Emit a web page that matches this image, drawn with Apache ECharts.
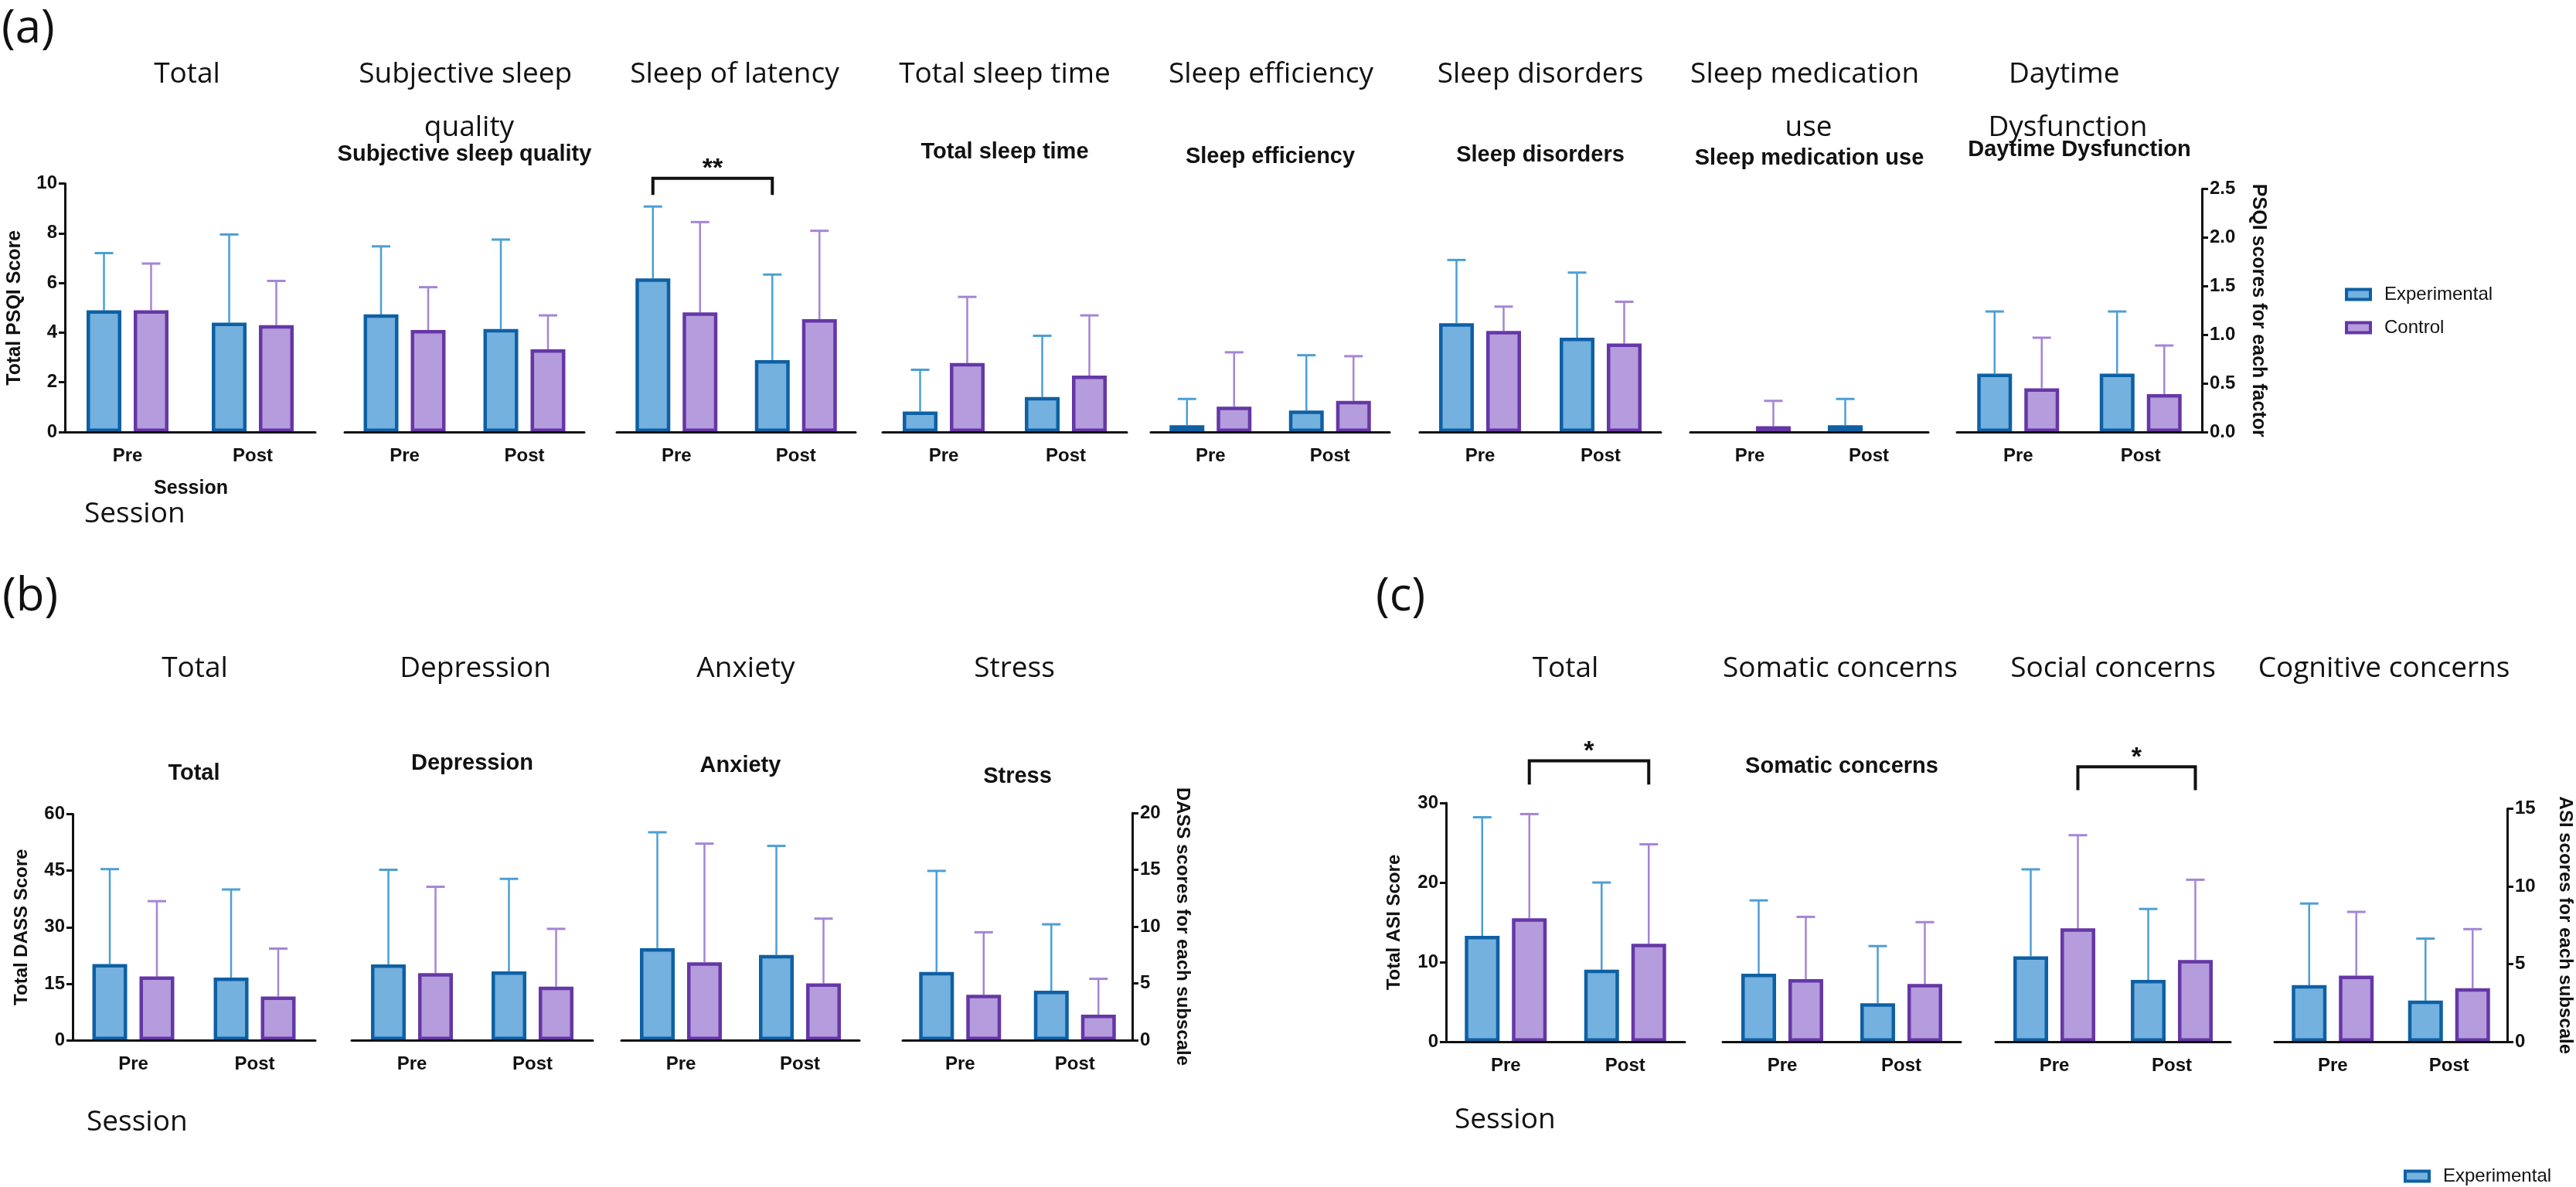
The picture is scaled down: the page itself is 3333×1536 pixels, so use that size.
<!DOCTYPE html>
<html><head><meta charset="utf-8">
<script src="https://cdn.jsdelivr.net/npm/echarts@6/dist/echarts.min.js"></script>
<style>html,body{margin:0;padding:0;background:#fff}#c{width:3333px;height:1536px}</style>
</head><body><div id="c"></div>
<script>
// ---------------- DATA ----------------
const sessions = ['Pre', 'Post'];
const groupNames = ['Experimental', 'Control'];

// (a) PSQI  — values per factor: [Pre, Post]; "Upper" = mean + SD (top of error bar)
const psqiFactors = ['Total', 'Subjective sleep quality', 'Sleep of latency', 'Total sleep time',
  'Sleep efficiency', 'Sleep disorders', 'Sleep medication use', 'Daytime Dysfunction'];
const psqiExpMean   = [[4.9, 4.4], [1.21, 1.06], [1.58, 0.74], [0.21, 0.36], [0.07, 0.22], [1.12, 0.97], [0, 0.07], [0.60, 0.60]];
const psqiExpUpper  = [[7.2, 7.95], [1.91, 1.98], [2.32, 1.62], [0.64, 0.99], [0.34, 0.79], [1.77, 1.64], [0, 0.34], [1.24, 1.24]];
const psqiCtrlMean  = [[4.9, 4.3], [1.05, 0.85], [1.23, 1.16], [0.71, 0.58], [0.26, 0.32], [1.04, 0.91], [0.06, 0], [0.45, 0.39]];
const psqiCtrlUpper = [[6.78, 6.08], [1.49, 1.20], [2.16, 2.07], [1.39, 1.20], [0.82, 0.78], [1.29, 1.34], [0.32, 0], [0.97, 0.89]];
const psqiTotalTicks = [0, 2, 4, 6, 8, 10];
const psqiFactorTicks = [0.0, 0.5, 1.0, 1.5, 2.0, 2.5];

// (b) DASS
const dassScales = ['Total', 'Depression', 'Anxiety', 'Stress'];
const dassExpMean   = [[20.2, 16.6], [6.67, 6.05], [8.1, 7.5], [6.0, 4.35]];
const dassExpUpper  = [[45.4, 40.0], [15.0, 14.2], [18.3, 17.1], [14.9, 10.2]];
const dassCtrlMean  = [[16.9, 11.6], [5.9, 4.71], [6.85, 5.0], [4.0, 2.25]];
const dassCtrlUpper = [[36.9, 24.3], [13.5, 9.8], [17.3, 10.7], [9.5, 5.4]];
const dassTotalTicks = [0, 15, 30, 45, 60];
const dassScaleTicks = [0, 5, 10, 15, 20];

// (c) ASI
const asiScales = ['Total', 'Somatic concerns', 'Social concerns', 'Cognitive concerns'];
const asiExpMean   = [[13.3, 9.05], [4.38, 2.47], [5.5, 3.98], [3.64, 2.65]];
const asiExpUpper  = [[28.2, 20.0], [9.1, 6.16], [11.1, 8.55], [8.9, 6.64]];
const asiCtrlMean  = [[15.5, 12.3], [4.03, 3.72], [7.3, 5.26], [4.25, 3.45]];
const asiCtrlUpper = [[28.6, 24.8], [8.04, 7.7], [13.3, 10.43], [8.36, 7.25]];
const asiTotalTicks = [0, 10, 20, 30];
const asiScaleTicks = [0, 5, 10, 15];

// significance brackets: chart index, group (0 exp / 1 ctrl), label, leg & top heights (axis units)
const psqiSig = [{chart: 2, group: 0, label: '**', leg: 2.44, top: 2.61}];
const dassSig = [];
const asiSig  = [{chart: 0, group: 1, label: '*', leg: 32.3, top: 35.3}, {chart: 2, group: 1, label: '*', leg: 16.2, top: 17.7}];

// ---------------- STYLE / LAYOUT ----------------
const C = {
  expFill: '#74b1df', expBorder: '#0e60a4', expErr: '#4c9fd6',
  ctrlFill: '#b59cdc', ctrlBorder: '#6537a6', ctrlErr: '#a585d6',
  ink: '#111'
};
const BAR_W = 45, BAR_GAP = 0.355;
const BAR_OFF = BAR_W * (1 + BAR_GAP) / 2;
const TITLE_FONT = '"Open Sans", "Noto Sans", sans-serif';
const ARIAL = '"Liberation Sans", Arial, sans-serif';

const panels = [
  {label: '(a)', labelPos: [2, 38], names: psqiFactors, exp: psqiExpMean, expUp: psqiExpUpper, ctrl: psqiCtrlMean, ctrlUp: psqiCtrlUpper,
   totalTicks: psqiTotalTicks, subTicks: psqiFactorTicks, decimals: 1,
   xs: [[84, 408], [446, 756], [798, 1107], [1142, 1458], [1489, 1798], [1837, 2149], [2187, 2495], [2532, 2849]],
   titleDx: [-4, 6, -2, 0, 1, 0, -1, -15],
   topTotal: 237.5, topSub: 244.6, bottom: 559,
   leftName: 'Total PSQI Score', rightName: 'PSQI scores for each factor', leftGap: 52, rightGap: 60, nameSize: 25,
   titleY: 96, titleWidth: 330, subY: [0, 200, 0, 197, 203, 201, 205, 194], sig: psqiSig,
   session: [[109, 665]], sessionSmall: [247, 632]},
  {label: '(b)', labelPos: [3, 773], names: dassScales, exp: dassExpMean, expUp: dassExpUpper, ctrl: dassCtrlMean, ctrlUp: dassCtrlUpper,
   totalTicks: dassTotalTicks, subTicks: dassScaleTicks, decimals: 0,
   xs: [[94, 408], [455, 767], [804, 1112], [1168, 1465]],
   titleDx: [1, 4, 7, -4],
   topTotal: 1053.5, topSub: 1052, bottom: 1346,
   leftName: 'Total DASS Score', rightName: 'DASS scores for each subscale', leftGap: 54, rightGap: 53, nameSize: 24,
   titleY: 865, titleWidth: 0, subY: [1001, 988, 991, 1005], sig: dassSig,
   session: [[112, 1452]]},
  {label: '(c)', labelPos: [1780, 773], names: asiScales, exp: asiExpMean, expUp: asiExpUpper, ctrl: asiCtrlMean, ctrlUp: asiCtrlUpper,
   totalTicks: asiTotalTicks, subTicks: asiScaleTicks, decimals: 0,
   xs: [[1871, 2180], [2229, 2537], [2582, 2886], [2943, 3244]],
   titleDx: [0, -2, 0, -9],
   topTotal: 1039, topSub: 1046.6, bottom: 1348,
   leftName: 'Total ASI Score', rightName: 'ASI scores for each subscale', leftGap: 55, rightGap: 63, nameSize: 24,
   titleY: 865, titleWidth: 0, subY: [0, 992, 0, 0], sig: asiSig,
   session: [[1882, 1449]]}
];

// ---------------- BUILD ----------------
function renderErr(params, api) {
  const mean = api.value(1), up = api.value(2), side = api.value(3);
  if (!(up > mean)) return null;
  const cat = api.value(0);
  const p0 = api.coord([cat, mean]);
  const p1 = api.coord([cat, up]);
  const x = p0[0] + side * BAR_OFF;
  const color = side < 0 ? C.expErr : C.ctrlErr;
  return {type: 'group', children: [
    {type: 'line', shape: {x1: x, y1: p0[1], x2: x, y2: p1[1]}, style: {stroke: color, lineWidth: 2.5}},
    {type: 'line', shape: {x1: x - 12, y1: p1[1], x2: x + 12, y2: p1[1]}, style: {stroke: color, lineWidth: 3}}
  ]};
}
// zero-height bars draw no outline (as in the original figure)
const barData = arr => arr.map(v => v === 0 ? {value: 0, itemStyle: {borderWidth: 0}} : v);

const option = {animation: false, backgroundColor: '#fff', grid: [], xAxis: [], yAxis: [], series: [], graphic: []};
let gi = 0;

panels.forEach(p => {
  option.graphic.push({type: 'text', x: p.labelPos[0], y: p.labelPos[1],
    style: {text: p.label, font: '60px ' + TITLE_FONT, fill: C.ink, textAlign: 'left', textVerticalAlign: 'middle'}});
  p.session.forEach(s => option.graphic.push({type: 'text', x: s[0], y: s[1],
    style: {text: 'Session', font: '500 37px ' + TITLE_FONT, fill: C.ink, textAlign: 'left', textVerticalAlign: 'middle'}}));
  if (p.sessionSmall) option.graphic.push({type: 'text', x: p.sessionSmall[0], y: p.sessionSmall[1],
    style: {text: 'Session', font: 'bold 25px ' + ARIAL, fill: C.ink, textAlign: 'center', textVerticalAlign: 'middle'}});

  p.xs.forEach((xr, k) => {
    const isTotal = k === 0, isLast = k === p.xs.length - 1;
    const ticks = isTotal ? p.totalTicks : p.subTicks;
    const top = isTotal ? p.topTotal : p.topSub;
    const cx = (xr[0] + xr[1]) / 2;
    option.grid.push({left: xr[0], top: top, width: xr[1] - xr[0], height: p.bottom - top});
    option.xAxis.push({
      gridIndex: gi, type: 'category', data: sessions, boundaryGap: true, z: 3,
      axisLine: {lineStyle: {color: C.ink, width: 3}},
      axisTick: {alignWithLabel: true, length: 12, lineStyle: {color: C.ink, width: 3}},
      axisLabel: {margin: 19, color: C.ink, fontFamily: ARIAL, fontWeight: 'bold', fontSize: 24},
      splitLine: {show: false}
    });
    const showY = isTotal || isLast;
    const dec = isTotal ? 0 : p.decimals;
    option.yAxis.push({
      gridIndex: gi, type: 'value', show: showY, position: isTotal ? 'left' : 'right',
      min: ticks[0], max: ticks[ticks.length - 1], interval: ticks[1] - ticks[0],
      name: isTotal ? p.leftName : (isLast ? p.rightName : ''),
      nameLocation: 'middle', nameRotate: isTotal ? 90 : -90, nameGap: isTotal ? p.leftGap : p.rightGap,
      nameTextStyle: {fontFamily: ARIAL, fontWeight: 'bold', fontSize: p.nameSize, color: C.ink},
      axisLine: {show: true, lineStyle: {color: C.ink, width: 3}},
      axisTick: {show: true, length: 8, lineStyle: {color: C.ink, width: 3}},
      axisLabel: {margin: 10, color: C.ink, fontFamily: ARIAL, fontWeight: 'bold', fontSize: 24,
        formatter: v => v.toFixed(dec)},
      splitLine: {show: false}
    });
    option.series.push({
      type: 'bar', name: groupNames[0], xAxisIndex: gi, yAxisIndex: gi, barWidth: BAR_W, barGap: (BAR_GAP * 100) + '%',
      data: barData(p.exp[k]), itemStyle: {color: C.expFill, borderColor: C.expBorder, borderWidth: 4.5}, z: 2
    });
    option.series.push({
      type: 'bar', name: groupNames[1], xAxisIndex: gi, yAxisIndex: gi, barWidth: BAR_W, barGap: (BAR_GAP * 100) + '%',
      data: barData(p.ctrl[k]), itemStyle: {color: C.ctrlFill, borderColor: C.ctrlBorder, borderWidth: 4.5}, z: 2
    });
    const errData = [];
    sessions.forEach((s, j) => {
      errData.push([j, p.exp[k][j], p.expUp[k][j], -1]);
      errData.push([j, p.ctrl[k][j], p.ctrlUp[k][j], 1]);
    });
    option.series.push({type: 'custom', xAxisIndex: gi, yAxisIndex: gi, z: 1, silent: true,
      encode: {x: 0, y: [1, 2]}, data: errData, renderItem: renderErr});

    // big title
    const tStyle = {text: p.names[k], font: '500 37px ' + TITLE_FONT, fill: C.ink, textAlign: 'center',
      textVerticalAlign: 'top', lineHeight: 69};
    if (p.titleWidth) { tStyle.width = p.titleWidth; tStyle.overflow = 'break'; }
    option.graphic.push({type: 'text', x: cx + p.titleDx[k], y: p.titleY - 34.5, style: tStyle});
    // bold subtitle
    if (p.subY[k]) option.graphic.push({type: 'text', x: cx, y: p.subY[k],
      style: {text: p.names[k], font: 'bold 29px ' + ARIAL, fill: C.ink, textAlign: 'center', textVerticalAlign: 'middle'}});

    // significance bracket
    p.sig.filter(s => s.chart === k).forEach(s => {
      const side = s.group === 0 ? -1 : 1;
      option.series.push({type: 'custom', xAxisIndex: gi, yAxisIndex: gi, silent: true, clip: false, z: 4,
        data: [[0, s.leg, s.top]],
        renderItem: (params, api) => {
          const pl = api.coord([0, api.value(1)]);
          const pt = api.coord([0, api.value(2)]);
          const pr = api.coord([1, api.value(1)]);
          const xl = pl[0] + side * BAR_OFF, xr2 = pr[0] + side * BAR_OFF;
          return {type: 'group', children: [
            {type: 'polyline', shape: {points: [[xl, pl[1]], [xl, pt[1]], [xr2, pt[1]], [xr2, pr[1]]]},
             style: {stroke: C.ink, lineWidth: 4, fill: null}},
            {type: 'text', x: (xl + xr2) / 2, y: pt[1] - 12,
             style: {text: s.label, font: 'bold 34px ' + ARIAL, fill: C.ink, textAlign: 'center', textVerticalAlign: 'middle'}}
          ]};
        }});
    });
    gi++;
  });
});

option.legend = [
  {orient: 'vertical', left: 3029, top: 364, itemWidth: 31, itemHeight: 13, itemGap: 19, icon: 'rect',
   data: groupNames, selectedMode: false,
   itemStyle: {borderWidth: 4},
   textStyle: {fontFamily: ARIAL, fontSize: 24, color: C.ink, padding: [0, 0, 0, 13]}},
  {orient: 'vertical', left: 3105, top: 1505, itemWidth: 31, itemHeight: 13, icon: 'rect',
   data: [groupNames[0]], selectedMode: false,
   itemStyle: {borderWidth: 4},
   textStyle: {fontFamily: ARIAL, fontSize: 24, color: C.ink, padding: [0, 0, 0, 13]}}
];

const chart = echarts.init(document.getElementById('c'), null, {renderer: 'canvas'});
chart.setOption(option);
</script>
</body></html>
